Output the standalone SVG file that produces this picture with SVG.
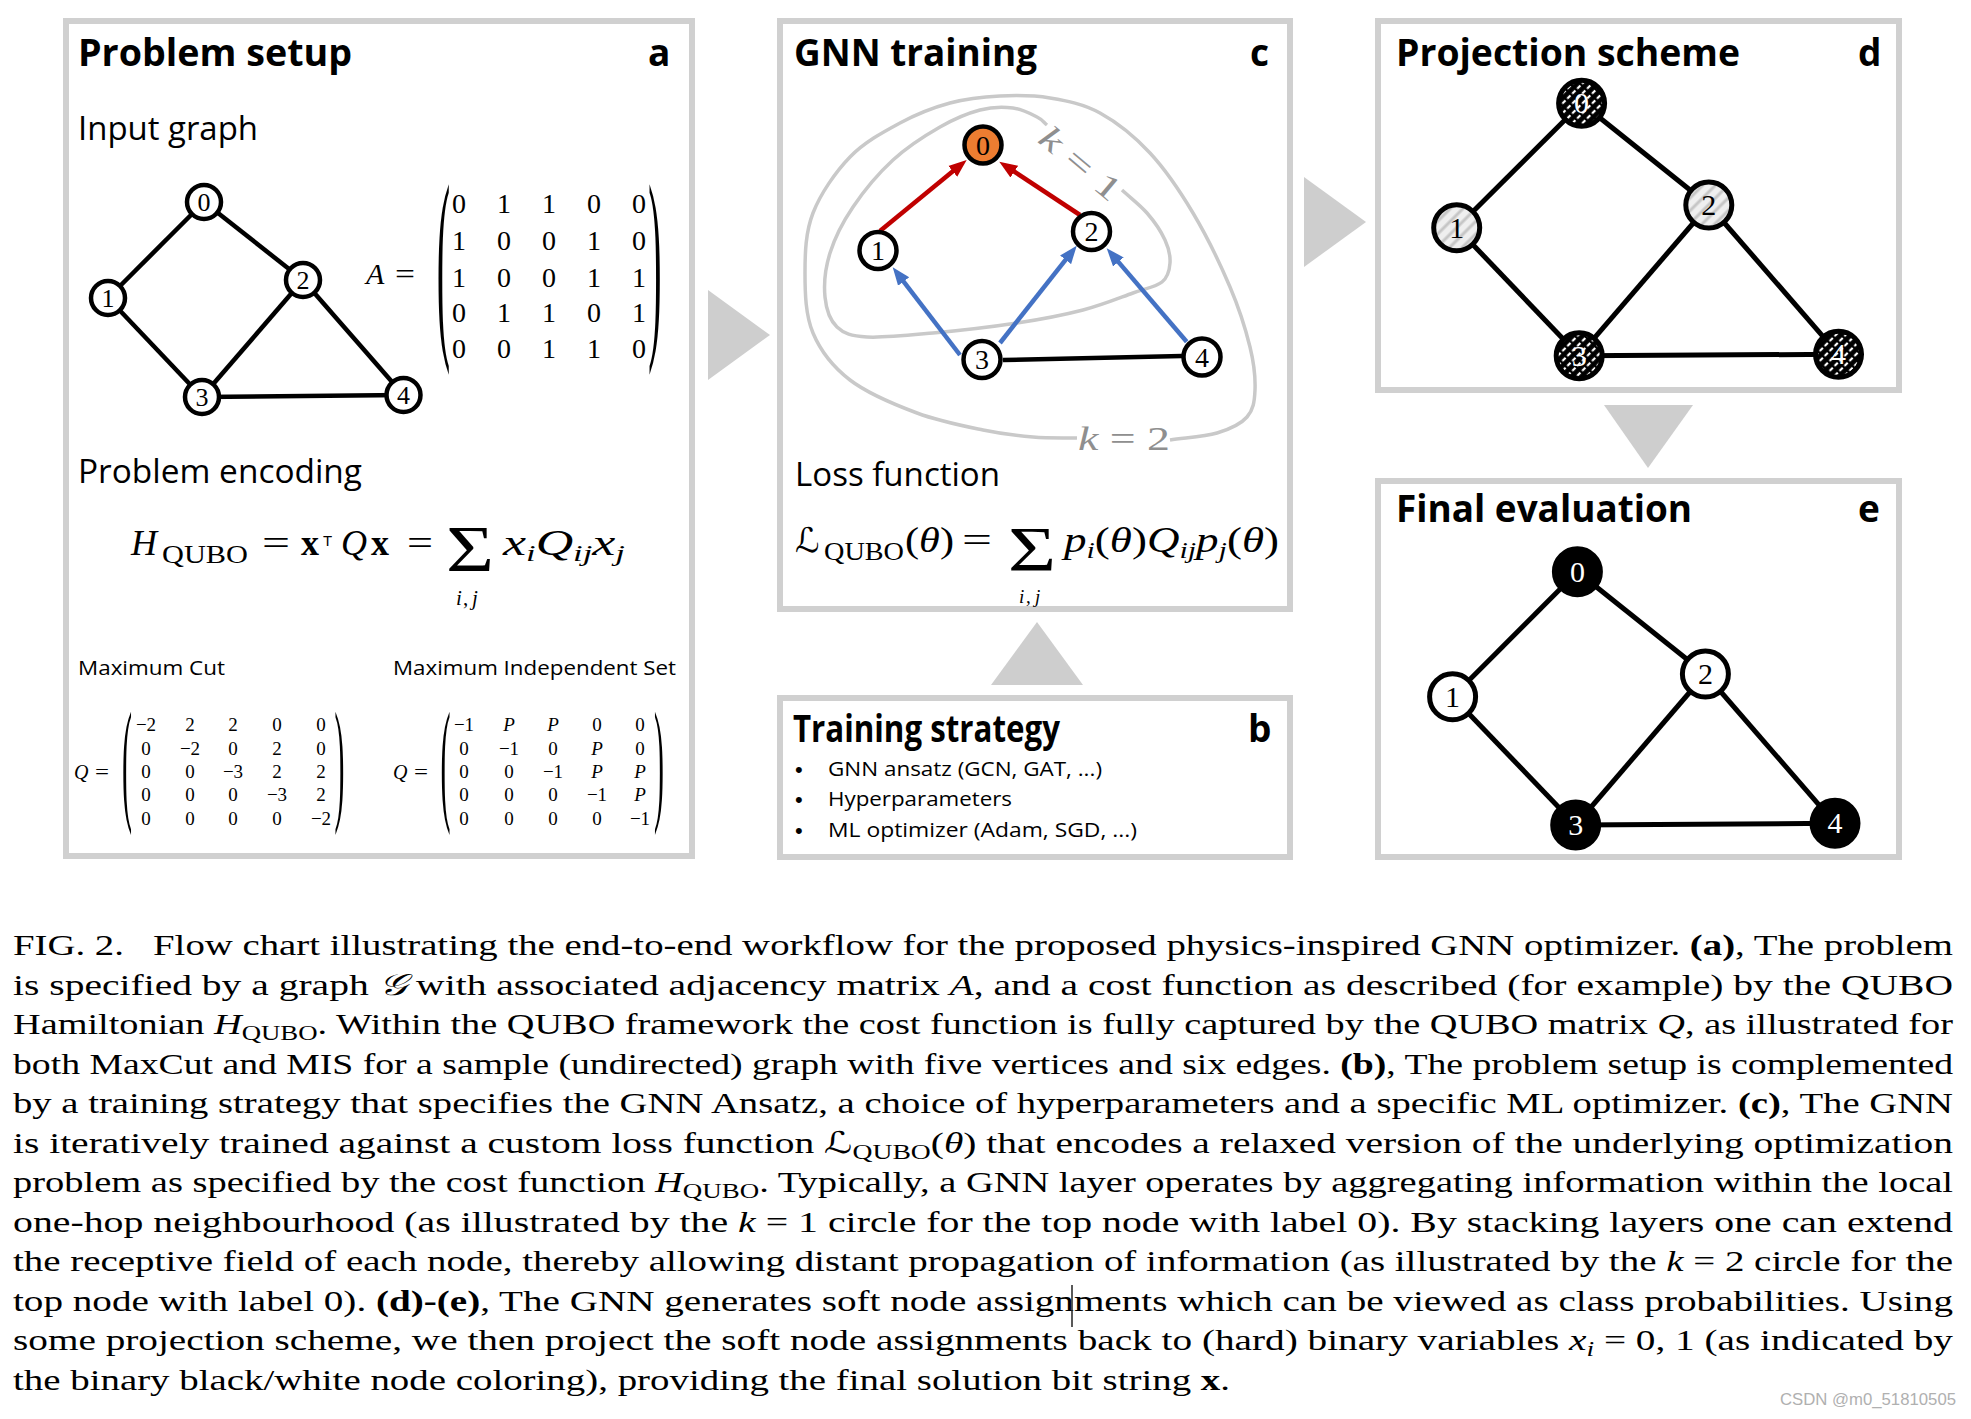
<svg xmlns="http://www.w3.org/2000/svg" width="1971" height="1419" viewBox="0 0 1971 1419">
<style>
.panel{fill:#fff;stroke:#d0d0d0;stroke-width:6}
.tri{fill:#cecece}
.title{font-family:"Open Sans","Liberation Sans",sans-serif;font-weight:700;font-size:37px;fill:#000}
.sub{font-family:"Open Sans","Liberation Sans",sans-serif;font-size:32px;fill:#000}
.small{font-family:"Open Sans","Liberation Sans",sans-serif;font-size:20px;fill:#000}
.bul{font-family:"Liberation Sans",sans-serif;font-size:22px;fill:#000}
.m{font-family:"Liberation Serif","DejaVu Serif",serif;fill:#000}
.mi{font-family:"Liberation Serif","DejaVu Serif",serif;font-style:italic;fill:#000}
.ent{font-family:"Liberation Serif","DejaVu Serif",serif;text-anchor:middle;fill:#000}
.edge{stroke:#000;stroke-width:4.5;fill:none}
.edge2{stroke:#000;stroke-width:5;fill:none}
.node{fill:#fff;stroke:#000;stroke-width:4.5}
.node2{stroke:#000;stroke-width:5}
.nl{font-family:"Liberation Serif","DejaVu Serif",serif;text-anchor:middle;fill:#000}
.curve{fill:none;stroke:#c9c9c9;stroke-width:3.5}
.klab{font-family:"Liberation Serif","DejaVu Serif",serif;font-size:34px;fill:#8f8f8f}
.red{stroke:#c00000;stroke-width:4.5;fill:none}
.blue{stroke:#4472c4;stroke-width:4.5;fill:none}
.cap{font-family:"Liberation Serif","DejaVu Serif",serif;font-size:30px;fill:#000}
.scr{font-family:"DejaVu Serif","DejaVu Sans","Noto Sans",serif}
</style>
<defs>
<marker id="ahr" markerUnits="userSpaceOnUse" markerWidth="20" markerHeight="16" viewBox="0 -8 20 16" refX="6" refY="0" orient="auto"><path d="M0,-7 L18,0 L0,7 Z" fill="#c00000"/></marker>
<marker id="ahb" markerUnits="userSpaceOnUse" markerWidth="20" markerHeight="16" viewBox="0 -8 20 16" refX="6" refY="0" orient="auto"><path d="M0,-7 L18,0 L0,7 Z" fill="#4472c4"/></marker>
<pattern id="hatchDark" patternUnits="userSpaceOnUse" width="7" height="7" patternTransform="rotate(45)"><rect width="7" height="7" fill="#000"/><line x1="2" y1="0" x2="2" y2="7" stroke="#fff" stroke-width="2.2" stroke-dasharray="4.5 2.5"/></pattern>
<pattern id="hatchLight" patternUnits="userSpaceOnUse" width="9" height="9" patternTransform="rotate(45)"><rect width="9" height="9" fill="#efefef"/><line x1="3" y1="0" x2="3" y2="9" stroke="#c6c6c6" stroke-width="3"/></pattern>
</defs>

<!-- Panels -->
<g id="panel-a"><rect class="panel" x="66" y="21" width="626" height="835"/></g>
<g id="panel-c"><rect class="panel" x="780" y="21" width="510" height="588"/></g>
<g id="panel-b"><rect class="panel" x="780" y="698" width="510" height="159"/></g>
<g id="panel-d"><rect class="panel" x="1378" y="21" width="521" height="369"/></g>
<g id="panel-e"><rect class="panel" x="1378" y="481" width="521" height="376"/></g>

<!-- Flow arrows -->
<g id="flow-arrows">
<polygon class="tri" points="708,290 708,380 770,335"/>
<polygon class="tri" points="1304,177 1304,267 1366,222"/>
<polygon class="tri" points="1604,405 1693,405 1648,468"/>
<polygon class="tri" points="991,685 1083,685 1037,622"/>
</g>

<!-- Panel a texts -->
<g id="panel-a-text">
<text class="title" x="78" y="66" textLength="274" lengthAdjust="spacingAndGlyphs">Problem setup</text>
<text class="title" x="648" y="66">a</text>
<text class="sub" x="78" y="140" textLength="180" lengthAdjust="spacingAndGlyphs">Input graph</text>
<text class="sub" x="78" y="483" textLength="284" lengthAdjust="spacingAndGlyphs">Problem encoding</text>
<text class="small" x="78" y="675" textLength="147" lengthAdjust="spacingAndGlyphs">Maximum Cut</text>
<text class="small" x="393" y="675" textLength="283" lengthAdjust="spacingAndGlyphs">Maximum Independent Set</text>
</g>

<!-- Adjacency matrix A -->
<g id="matrix-A">
<text class="mi" x="366" y="284" font-size="30">A</text>
<text class="m" x="395" y="284" font-size="30" textLength="20" lengthAdjust="spacingAndGlyphs">=</text>
<text class="m" font-size="40" text-anchor="middle" transform="translate(443.5,277.5) scale(1,5.25)" y="10">(</text>
<text class="m" font-size="40" text-anchor="middle" transform="translate(655,277.5) scale(1,5.25)" y="10">)</text>
<g class="ent" font-size="28">
<text x="459" y="213">0</text><text x="504" y="213">1</text><text x="549" y="213">1</text><text x="594" y="213">0</text><text x="639" y="213">0</text>
<text x="459" y="250">1</text><text x="504" y="250">0</text><text x="549" y="250">0</text><text x="594" y="250">1</text><text x="639" y="250">0</text>
<text x="459" y="287">1</text><text x="504" y="287">0</text><text x="549" y="287">0</text><text x="594" y="287">1</text><text x="639" y="287">1</text>
<text x="459" y="322">0</text><text x="504" y="322">1</text><text x="549" y="322">1</text><text x="594" y="322">0</text><text x="639" y="322">1</text>
<text x="459" y="358">0</text><text x="504" y="358">0</text><text x="549" y="358">1</text><text x="594" y="358">1</text><text x="639" y="358">0</text>
</g>
</g>

<!-- H_QUBO formula -->
<g id="formula-H">
<text class="mi" x="131" y="555" font-size="36">H</text>
<text class="m" x="162" y="563" font-size="26" textLength="86" lengthAdjust="spacingAndGlyphs">QUBO</text>
<text class="m" x="262" y="555" font-size="36" textLength="28" lengthAdjust="spacingAndGlyphs">=</text>
<text class="m" x="301" y="555" font-size="36" font-weight="bold">x</text>
<text x="323" y="546" font-size="15" font-family="Liberation Sans, sans-serif">T</text>
<text class="mi" x="341" y="555" font-size="36">Q</text>
<text class="m" x="371" y="555" font-size="36" font-weight="bold">x</text>
<text class="m" x="407" y="555" font-size="36" textLength="26" lengthAdjust="spacingAndGlyphs">=</text>
<text class="m" font-size="66" transform="translate(446,571) scale(1.25,1)">Σ</text>
<text class="m" font-size="21"><tspan x="456" y="605" font-style="italic">i</tspan><tspan x="463">,</tspan><tspan x="472" font-style="italic">j</tspan></text>
<text class="mi" x="503" y="555" font-size="36" textLength="122" lengthAdjust="spacingAndGlyphs">x<tspan font-size="24" dy="6">i</tspan><tspan dy="-6">Q</tspan><tspan font-size="24" dy="6">ij</tspan><tspan dy="-6">x</tspan><tspan font-size="24" dy="6">j</tspan></text>
</g>

<!-- Q matrices -->
<g id="matrix-Q-maxcut">
<text class="mi" x="74" y="779" font-size="20">Q</text>
<text class="m" x="95" y="779" font-size="20" textLength="14" lengthAdjust="spacingAndGlyphs">=</text>
<text class="m" font-size="30" text-anchor="middle" transform="translate(127,772.5) scale(1,4.5)" y="7.5">(</text>
<text class="m" font-size="30" text-anchor="middle" transform="translate(339.5,772.5) scale(1,4.5)" y="7.5">)</text>
<g class="ent" font-size="19">
<text x="146" y="731">−2</text><text x="190" y="731">2</text><text x="233" y="731">2</text><text x="277" y="731">0</text><text x="321" y="731">0</text>
<text x="146" y="755">0</text><text x="190" y="755">−2</text><text x="233" y="755">0</text><text x="277" y="755">2</text><text x="321" y="755">0</text>
<text x="146" y="778">0</text><text x="190" y="778">0</text><text x="233" y="778">−3</text><text x="277" y="778">2</text><text x="321" y="778">2</text>
<text x="146" y="801">0</text><text x="190" y="801">0</text><text x="233" y="801">0</text><text x="277" y="801">−3</text><text x="321" y="801">2</text>
<text x="146" y="825">0</text><text x="190" y="825">0</text><text x="233" y="825">0</text><text x="277" y="825">0</text><text x="321" y="825">−2</text>
</g>
</g>
<g id="matrix-Q-mis">
<text class="mi" x="393" y="779" font-size="20">Q</text>
<text class="m" x="414" y="779" font-size="20" textLength="14" lengthAdjust="spacingAndGlyphs">=</text>
<text class="m" font-size="30" text-anchor="middle" transform="translate(445.5,772.5) scale(1,4.5)" y="7.5">(</text>
<text class="m" font-size="30" text-anchor="middle" transform="translate(659,772.5) scale(1,4.5)" y="7.5">)</text>
<g class="ent" font-size="19">
<text x="464" y="731">−1</text><text x="509" y="731" font-style="italic">P</text><text x="553" y="731" font-style="italic">P</text><text x="597" y="731">0</text><text x="640" y="731">0</text>
<text x="464" y="755">0</text><text x="509" y="755">−1</text><text x="553" y="755">0</text><text x="597" y="755" font-style="italic">P</text><text x="640" y="755">0</text>
<text x="464" y="778">0</text><text x="509" y="778">0</text><text x="553" y="778">−1</text><text x="597" y="778" font-style="italic">P</text><text x="640" y="778" font-style="italic">P</text>
<text x="464" y="801">0</text><text x="509" y="801">0</text><text x="553" y="801">0</text><text x="597" y="801">−1</text><text x="640" y="801" font-style="italic">P</text>
<text x="464" y="825">0</text><text x="509" y="825">0</text><text x="553" y="825">0</text><text x="597" y="825">0</text><text x="640" y="825">−1</text>
</g>
</g>

<!-- Panel c texts -->
<g id="panel-c-text">
<text class="title" x="794" y="66" textLength="243" lengthAdjust="spacingAndGlyphs">GNN training</text>
<text class="title" x="1250" y="66">c</text>
<text class="sub" x="795" y="486" textLength="205" lengthAdjust="spacingAndGlyphs">Loss function</text>
</g>
<g id="formula-L">
<text class="scr" x="795" y="552" font-size="34" font-style="italic">ℒ</text>
<text class="m" x="824" y="560" font-size="26" textLength="80" lengthAdjust="spacingAndGlyphs">QUBO</text>
<text class="m" x="905" y="552" font-size="36" textLength="49" lengthAdjust="spacingAndGlyphs">(<tspan font-style="italic">θ</tspan>)</text>
<text class="m" x="962" y="552" font-size="36" textLength="30" lengthAdjust="spacingAndGlyphs">=</text>
<text class="m" font-size="64" transform="translate(1008,571) scale(1.29,1)">Σ</text>
<text class="m" font-size="19"><tspan x="1019" y="603" font-style="italic">i</tspan><tspan x="1026">,</tspan><tspan x="1035" font-style="italic">j</tspan></text>
<text class="mi" x="1064" y="552" font-size="36" textLength="215" lengthAdjust="spacingAndGlyphs">p<tspan font-size="24" dy="6">i</tspan><tspan dy="-6" font-style="normal">(</tspan>θ<tspan font-style="normal">)</tspan>Q<tspan font-size="24" dy="6">ij</tspan><tspan dy="-6">p</tspan><tspan font-size="24" dy="6">j</tspan><tspan dy="-6" font-style="normal">(</tspan>θ<tspan font-style="normal">)</tspan></text>
</g>

<!-- Panel b texts -->
<g id="panel-b-text">
<text class="title" x="793" y="742" textLength="267" lengthAdjust="spacingAndGlyphs">Training strategy</text>
<text class="title" x="1248" y="742">b</text>
<text class="bul" x="795" y="777">•</text>
<text class="small" x="828" y="776" textLength="274" lengthAdjust="spacingAndGlyphs">GNN ansatz (GCN, GAT, ...)</text>
<text class="bul" x="795" y="807">•</text>
<text class="small" x="828" y="806" textLength="184" lengthAdjust="spacingAndGlyphs">Hyperparameters</text>
<text class="bul" x="795" y="838">•</text>
<text class="small" x="828" y="837" textLength="309" lengthAdjust="spacingAndGlyphs">ML optimizer (Adam, SGD, ...)</text>
</g>

<!-- Panel d/e titles -->
<g id="panel-d-text">
<text class="title" x="1396" y="66" textLength="344" lengthAdjust="spacingAndGlyphs">Projection scheme</text>
<text class="title" x="1858" y="66">d</text>
</g>
<g id="panel-e-text">
<text class="title" x="1396" y="522" textLength="296" lengthAdjust="spacingAndGlyphs">Final evaluation</text>
<text class="title" x="1858" y="522">e</text>
</g>

<!-- Receptive field curves -->
<g id="receptive-fields">
<path class="curve" d="M1122,190 C1130.3,197.7 1139.8,204.7 1147,213 C1154.2,221.3 1161.2,231.7 1165,240 C1168.8,248.3 1170.5,256 1170,263 C1169.5,270 1168.2,277 1162,282 C1155.8,287 1146.2,288.3 1133,293 C1119.8,297.7 1102.3,305 1083,310 C1063.7,315 1042,319.2 1017,323 C992,326.8 958,330.7 933,333 C908,335.3 883,338 867,337 C851,336 844,333.7 837,327 C830,320.3 826.2,309.3 825,297 C823.8,284.7 825.3,268 830,253 C834.7,238 842.5,222.5 853,207 C863.5,191.5 878.5,173.3 893,160 C907.5,146.7 925.5,135.3 940,127 C954.5,118.7 967.8,113.2 980,110 C992.2,106.8 1003.5,106.8 1013,108 C1022.5,109.2 1031.3,114.2 1037,117 C1042.7,119.8 1043.7,122.3 1047,125"/>
<path class="curve" d="M1170,440 C1185.7,437.7 1204.2,436.8 1217,433 C1229.8,429.2 1240.7,424.2 1247,417 C1253.3,409.8 1254.5,401.7 1255,390 C1255.5,378.3 1254.2,364.2 1250,347 C1245.8,329.8 1239.5,309.3 1230,287 C1220.5,264.7 1206.3,235.3 1193,213 C1179.7,190.7 1165.5,169.7 1150,153 C1134.5,136.3 1116.7,122.2 1100,113 C1083.3,103.8 1066.7,100.8 1050,98 C1033.3,95.2 1016.7,95.2 1000,96 C983.3,96.8 966.7,98.5 950,103 C933.3,107.5 916.7,114 900,123 C883.3,132 864.5,142 850,157 C835.5,172 820.5,193.7 813,213 C805.5,232.3 805,253 805,273 C805,293 805.5,315.2 813,333 C820.5,350.8 832.7,366.7 850,380 C867.3,393.3 894.8,404.7 917,413 C939.2,421.3 963.7,426 983,430 C1002.3,434 1017.3,435.7 1033,437 C1048.7,438.3 1062.3,437.7 1077,438"/>
<text class="klab" transform="translate(1081,163) rotate(40)" text-anchor="middle" y="12" textLength="96" lengthAdjust="spacingAndGlyphs"><tspan font-style="italic">k</tspan> = 1</text>
<text class="klab" x="1078" y="450" textLength="92" lengthAdjust="spacingAndGlyphs"><tspan font-style="italic">k</tspan> = 2</text>
</g>

<!-- Connectors -->
<g id="connectors">
<line class="edge" x1="204" y1="202" x2="108" y2="298"/>
<line class="edge" x1="204" y1="202" x2="303" y2="280"/>
<line class="edge" x1="108" y1="298" x2="202" y2="397"/>
<line class="edge" x1="303" y1="280" x2="202" y2="397"/>
<line class="edge" x1="303" y1="280" x2="403.5" y2="395"/>
<line class="edge" x1="202" y1="397" x2="403.5" y2="395"/>

<line class="red" x1="880" y1="231" x2="957.4" y2="167.5" marker-end="url(#ahr)"/>
<line class="red" x1="1080" y1="215" x2="1009.3" y2="168.3" marker-end="url(#ahr)"/>
<line class="blue" x1="960" y1="355" x2="900" y2="276.8" marker-end="url(#ahb)"/>
<line class="blue" x1="1000" y1="343" x2="1069.3" y2="255.1" marker-end="url(#ahb)"/>
<line class="blue" x1="1186.7" y1="341.7" x2="1114.5" y2="257.4" marker-end="url(#ahb)"/>
<line class="edge" x1="1003" y1="360" x2="1182" y2="356"/>

<line class="edge2" x1="1581.6" y1="103.3" x2="1456.7" y2="227.7"/>
<line class="edge2" x1="1581.6" y1="103.3" x2="1708.8" y2="205"/>
<line class="edge2" x1="1456.7" y1="227.7" x2="1579.2" y2="355.7"/>
<line class="edge2" x1="1708.8" y1="205" x2="1579.2" y2="355.7"/>
<line class="edge2" x1="1708.8" y1="205" x2="1838.5" y2="354.3"/>
<line class="edge2" x1="1579.2" y1="355.7" x2="1838.5" y2="354.3"/>

<line class="edge2" x1="1577.4" y1="571.7" x2="1452.6" y2="696.7"/>
<line class="edge2" x1="1577.4" y1="571.7" x2="1705.4" y2="674"/>
<line class="edge2" x1="1452.6" y1="696.7" x2="1575.7" y2="825"/>
<line class="edge2" x1="1705.4" y1="674" x2="1575.7" y2="825"/>
<line class="edge2" x1="1705.4" y1="674" x2="1835" y2="823.3"/>
<line class="edge2" x1="1575.7" y1="825" x2="1835" y2="823.3"/>
</g>

<!-- Panel a nodes -->
<g id="a-node-0"><circle class="node" cx="204" cy="202" r="17"/><text class="nl" x="204" y="211" font-size="26">0</text></g>
<g id="a-node-1"><circle class="node" cx="108" cy="298" r="17"/><text class="nl" x="108" y="307" font-size="26">1</text></g>
<g id="a-node-2"><circle class="node" cx="303" cy="280" r="17"/><text class="nl" x="303" y="289" font-size="26">2</text></g>
<g id="a-node-3"><circle class="node" cx="202" cy="397" r="17"/><text class="nl" x="202" y="406" font-size="26">3</text></g>
<g id="a-node-4"><circle class="node" cx="403.5" cy="395" r="17"/><text class="nl" x="403.5" y="404" font-size="26">4</text></g>

<!-- Panel c nodes -->
<g id="c-node-0"><circle class="node" cx="983" cy="145" r="18.5" style="fill:#ed7d31"/><text class="nl" x="983" y="154.5" font-size="28">0</text></g>
<g id="c-node-1"><circle class="node" cx="878" cy="250.5" r="18.5"/><text class="nl" x="878" y="260" font-size="28">1</text></g>
<g id="c-node-2"><circle class="node" cx="1091.5" cy="231.5" r="18.5"/><text class="nl" x="1091.5" y="241" font-size="28">2</text></g>
<g id="c-node-3"><circle class="node" cx="982" cy="359.5" r="18.5"/><text class="nl" x="982" y="369" font-size="28">3</text></g>
<g id="c-node-4"><circle class="node" cx="1202" cy="357" r="18.5"/><text class="nl" x="1202" y="366.5" font-size="28">4</text></g>

<!-- Panel d nodes -->
<g id="d-node-0"><circle class="node2" cx="1581.6" cy="103.3" r="23" fill="url(#hatchDark)"/><text class="nl" x="1581.6" y="113.3" font-size="30" style="fill:#fff">0</text></g>
<g id="d-node-1"><circle class="node2" cx="1456.7" cy="227.7" r="23" fill="url(#hatchLight)"/><text class="nl" x="1456.7" y="237.7" font-size="30">1</text></g>
<g id="d-node-2"><circle class="node2" cx="1708.8" cy="205" r="23" fill="url(#hatchLight)"/><text class="nl" x="1708.8" y="215" font-size="30">2</text></g>
<g id="d-node-3"><circle class="node2" cx="1579.2" cy="355.7" r="23" fill="url(#hatchDark)"/><text class="nl" x="1579.2" y="365.7" font-size="30" style="fill:#fff">3</text></g>
<g id="d-node-4"><circle class="node2" cx="1838.5" cy="354.3" r="23" fill="url(#hatchDark)"/><text class="nl" x="1838.5" y="364.3" font-size="30" style="fill:#fff">4</text></g>

<!-- Panel e nodes -->
<g id="e-node-0"><circle class="node2" cx="1577.4" cy="571.7" r="23" fill="#000"/><text class="nl" x="1577.4" y="581.7" font-size="30" style="fill:#fff">0</text></g>
<g id="e-node-1"><circle class="node2" cx="1452.6" cy="696.7" r="23" fill="#fff"/><text class="nl" x="1452.6" y="706.7" font-size="30">1</text></g>
<g id="e-node-2"><circle class="node2" cx="1705.4" cy="674" r="23" fill="#fff"/><text class="nl" x="1705.4" y="684" font-size="30">2</text></g>
<g id="e-node-3"><circle class="node2" cx="1575.7" cy="825" r="23" fill="#000"/><text class="nl" x="1575.7" y="835" font-size="30" style="fill:#fff">3</text></g>
<g id="e-node-4"><circle class="node2" cx="1835" cy="823.3" r="23" fill="#000"/><text class="nl" x="1835" y="833.3" font-size="30" style="fill:#fff">4</text></g>

<!-- Caption -->
<g id="caption" class="cap">
<text x="13" y="955" textLength="1940" lengthAdjust="spacingAndGlyphs">FIG. 2.&#160;&#160; Flow chart illustrating the end-to-end workflow for the proposed physics-inspired GNN optimizer. <tspan font-weight="bold">(a)</tspan>, The problem</text>
<text x="13" y="994.5" textLength="1940" lengthAdjust="spacingAndGlyphs">is specified by a graph <tspan class="scr" font-style="italic">𝒢</tspan> with associated adjacency matrix <tspan font-style="italic">A</tspan>, and a cost function as described (for example) by the QUBO</text>
<text x="13" y="1034" textLength="1940" lengthAdjust="spacingAndGlyphs">Hamiltonian <tspan font-style="italic">H</tspan><tspan font-size="21" dy="6">QUBO</tspan><tspan dy="-6">. Within the QUBO framework the cost function is fully captured by the QUBO matrix </tspan><tspan font-style="italic">Q</tspan>, as illustrated for</text>
<text x="13" y="1073.5" textLength="1940" lengthAdjust="spacingAndGlyphs">both MaxCut and MIS for a sample (undirected) graph with five vertices and six edges. <tspan font-weight="bold">(b)</tspan>, The problem setup is complemented</text>
<text x="13" y="1113" textLength="1940" lengthAdjust="spacingAndGlyphs">by a training strategy that specifies the GNN Ansatz, a choice of hyperparameters and a specific ML optimizer. <tspan font-weight="bold">(c)</tspan>, The GNN</text>
<text x="13" y="1152.5" textLength="1940" lengthAdjust="spacingAndGlyphs">is iteratively trained against a custom loss function <tspan class="scr" font-style="italic">ℒ</tspan><tspan font-size="21" dy="6">QUBO</tspan><tspan dy="-6">(</tspan><tspan font-style="italic">θ</tspan>) that encodes a relaxed version of the underlying optimization</text>
<text x="13" y="1192" textLength="1940" lengthAdjust="spacingAndGlyphs">problem as specified by the cost function <tspan font-style="italic">H</tspan><tspan font-size="21" dy="6">QUBO</tspan><tspan dy="-6">. Typically, a GNN layer operates by aggregating information within the local</tspan></text>
<text x="13" y="1231.5" textLength="1940" lengthAdjust="spacingAndGlyphs">one-hop neighbourhood (as illustrated by the <tspan font-style="italic">k</tspan> = 1 circle for the top node with label 0). By stacking layers one can extend</text>
<text x="13" y="1271" textLength="1940" lengthAdjust="spacingAndGlyphs">the receptive field of each node, thereby allowing distant propagation of information (as illustrated by the <tspan font-style="italic">k</tspan> = 2 circle for the</text>
<text x="13" y="1310.5" textLength="1940" lengthAdjust="spacingAndGlyphs">top node with label 0). <tspan font-weight="bold">(d)-(e)</tspan>, The GNN generates soft node assignments which can be viewed as class probabilities. Using</text>
<text x="13" y="1350" textLength="1940" lengthAdjust="spacingAndGlyphs">some projection scheme, we then project the soft node assignments back to (hard) binary variables <tspan font-style="italic">x</tspan><tspan font-size="21" dy="6" font-style="italic">i</tspan><tspan dy="-6"> = 0, 1 (as indicated by</tspan></text>
<text x="13" y="1389.5" textLength="1217" lengthAdjust="spacingAndGlyphs">the binary black/white node coloring), providing the final solution bit string <tspan font-weight="bold">x</tspan>.</text>
</g>
<line x1="1072" y1="1285" x2="1072" y2="1327" stroke="#222" stroke-width="1.5"/>
<text x="1780" y="1405" font-family="Liberation Sans, sans-serif" font-size="17" fill="#b0b0b0" textLength="176" lengthAdjust="spacingAndGlyphs">CSDN @m0_51810505</text>
</svg>
